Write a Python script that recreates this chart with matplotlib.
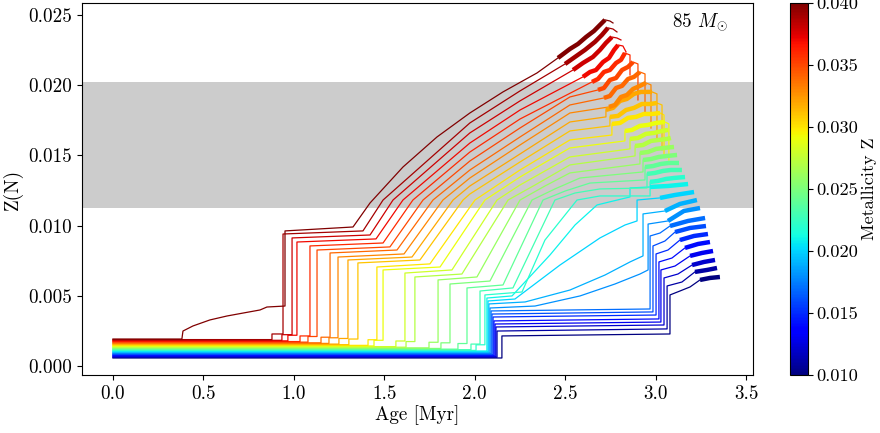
import matplotlib
matplotlib.use("Agg")
import matplotlib.pyplot as plt
from matplotlib.colors import Normalize
from matplotlib.cm import ScalarMappable

plt.rcParams['font.family'] = 'serif'
plt.rcParams['font.serif'] = ['cmr10']
plt.rcParams['mathtext.fontset'] = 'cm'
plt.rcParams['axes.formatter.use_mathtext'] = True
plt.rcParams['font.size'] = 13.8

# metallicity of each track (0.040 -> 0.010)
metallicity = [0.040, 0.039, 0.038, 0.037, 0.036, 0.035, 0.034, 0.033, 0.032, 0.031,
               0.030, 0.029, 0.028, 0.027, 0.026, 0.025, 0.024, 0.023, 0.022, 0.021,
               0.020, 0.019, 0.018, 0.017, 0.016, 0.015, 0.014, 0.013, 0.012, 0.011, 0.010]

band_low, band_high = 0.01125, 0.02023
mass_label = r'85 $M_{\odot}$'

# thin part of each track (age [Myr], Z(N))
thin_age = [
    [0, 0.381, 0.387, 0.442, 0.536, 0.630, 0.719, 0.813, 0.851, 0.951, 0.951, 1.327, 1.421, 1.603, 1.791, 1.973, 2.156, 2.344, 2.460],
    [0, 0.879, 0.879, 0.940, 0.940, 1.382, 1.493, 1.973, 2.250, 2.499],
    [0, 0.934, 0.934, 0.990, 0.990, 1.421, 1.548, 1.973, 2.250, 2.543],
    [0, 0.967, 0.967, 1.017, 1.017, 1.454, 1.603, 1.973, 2.250, 2.598],
    [0, 1.034, 1.034, 1.089, 1.089, 1.493, 1.658, 1.973, 2.250, 2.648],
    [0, 1.078, 1.078, 1.128, 1.128, 1.531, 1.714, 1.973, 2.250, 2.526, 2.681],
    [0, 1.150, 1.150, 1.200, 1.200, 1.570, 1.769, 1.973, 2.250, 2.526, 2.714],
    [0, 1.194, 1.194, 1.244, 1.244, 1.609, 1.824, 1.973, 2.250, 2.526, 2.742],
    [0, 1.249, 1.249, 1.299, 1.299, 1.653, 1.880, 1.973, 2.250, 2.526, 2.725, 2.725],
    [0, 1.304, 1.304, 1.354, 1.354, 1.697, 1.935, 1.973, 2.250, 2.526, 2.747, 2.747],
    [0, 1.410, 1.410, 1.459, 1.459, 1.752, 2.001, 2.250, 2.526, 2.758, 2.758],
    [0, 1.443, 1.443, 1.493, 1.493, 1.808, 2.056, 2.250, 2.526, 2.830, 2.830],
    [0, 1.564, 1.564, 1.614, 1.614, 1.874, 2.123, 2.250, 2.526, 2.858, 2.858],
    [0, 1.620, 1.620, 1.669, 1.669, 1.929, 2.184, 2.333, 2.526, 2.886, 2.886],
    [0, 1.747, 1.747, 1.797, 1.797, 2.012, 2.250, 2.388, 2.526, 2.913, 2.913],
    [0, 1.813, 1.813, 1.863, 1.863, 2.084, 2.316, 2.443, 2.582, 2.930, 2.930],
    [0, 1.907, 1.907, 1.957, 1.957, 2.156, 2.377, 2.499, 2.637, 2.941, 2.941],
    [0, 1.979, 1.979, 2.029, 2.029, 2.211, 2.443, 2.554, 2.692, 2.952, 2.952],
    [0, 2.007, 2.007, 2.056, 2.056, 2.261, 2.388, 2.565, 2.692, 2.969, 2.969],
    [0, 2.067, 2.067, 2.206, 2.416, 2.554, 2.676, 2.858, 2.858, 2.969],
    [0, 2.073, 2.073, 2.222, 2.471, 2.692, 2.830, 2.897, 2.897, 3.024],
    [0, 2.078, 2.078, 2.278, 2.526, 2.720, 2.858, 2.930, 2.930, 3.051],
    [0, 2.084, 2.084, 2.333, 2.582, 2.775, 2.913, 2.958, 2.958, 3.068],
    [0, 2.090, 2.090, 2.969, 2.969, 3.024, 3.079],
    [0, 2.095, 2.095, 2.985, 2.985, 3.051, 3.107],
    [0, 2.101, 2.101, 3.002, 3.002, 3.068, 3.134],
    [0, 2.106, 2.106, 3.018, 3.018, 3.090, 3.162],
    [0, 2.112, 2.112, 3.029, 3.029, 3.107, 3.190],
    [0, 2.117, 2.117, 3.046, 3.046, 3.123, 3.201],
    [0, 2.123, 2.123, 3.063, 3.063, 3.145, 3.217],
    [0, 2.150, 2.150, 3.079, 3.079, 3.134, 3.190, 3.245],
]
thin_zn = [
    [0.00192, 0.00192, 0.00249, 0.00285, 0.00328, 0.00356, 0.00377, 0.00399, 0.00420, 0.00427, 0.00962, 0.00990, 0.01161, 0.01417, 0.01631, 0.01802, 0.01952, 0.02087, 0.02194],
    [0.00188, 0.00188, 0.00228, 0.00228, 0.00940, 0.00962, 0.01182, 0.01731, 0.01959, 0.02151],
    [0.00183, 0.00183, 0.00223, 0.00223, 0.00912, 0.00933, 0.01182, 0.01660, 0.01888, 0.02108],
    [0.00179, 0.00179, 0.00219, 0.00219, 0.00883, 0.00905, 0.01182, 0.01588, 0.01823, 0.02059],
    [0.00174, 0.00174, 0.00214, 0.00214, 0.00855, 0.00876, 0.01182, 0.01524, 0.01759, 0.02023],
    [0.00170, 0.00170, 0.00210, 0.00210, 0.00826, 0.00848, 0.01182, 0.01460, 0.01695, 0.01916, 0.01966],
    [0.00165, 0.00165, 0.00205, 0.00205, 0.00805, 0.00826, 0.01182, 0.01396, 0.01631, 0.01859, 0.01909],
    [0.00161, 0.00161, 0.00201, 0.00201, 0.00776, 0.00798, 0.01182, 0.01339, 0.01574, 0.01802, 0.01845],
    [0.00156, 0.00156, 0.00196, 0.00196, 0.00755, 0.00776, 0.01182, 0.01282, 0.01510, 0.01738, 0.01774, 0.01824],
    [0.00152, 0.00152, 0.00192, 0.00192, 0.00734, 0.00755, 0.01182, 0.01225, 0.01453, 0.01674, 0.01710, 0.01774],
    [0.00147, 0.00147, 0.00187, 0.00187, 0.00705, 0.00727, 0.01182, 0.01396, 0.01610, 0.01645, 0.01724],
    [0.00143, 0.00143, 0.00183, 0.00183, 0.00684, 0.00705, 0.01182, 0.01346, 0.01553, 0.01603, 0.01674],
    [0.00138, 0.00138, 0.00178, 0.00178, 0.00662, 0.00684, 0.01182, 0.01289, 0.01489, 0.01546, 0.01617],
    [0.00134, 0.00134, 0.00174, 0.00174, 0.00634, 0.00655, 0.01182, 0.01289, 0.01432, 0.01496, 0.01567],
    [0.00129, 0.00129, 0.00169, 0.00169, 0.00613, 0.00634, 0.01182, 0.01282, 0.01375, 0.01439, 0.01517],
    [0.00125, 0.00125, 0.00165, 0.00165, 0.00584, 0.00605, 0.01182, 0.01261, 0.01339, 0.01382, 0.01467],
    [0.00120, 0.00120, 0.00160, 0.00160, 0.00556, 0.00577, 0.01182, 0.01246, 0.01303, 0.01325, 0.01417],
    [0.00116, 0.00116, 0.00156, 0.00156, 0.00534, 0.00556, 0.01182, 0.01232, 0.01261, 0.01268, 0.01368],
    [0.00111, 0.00111, 0.00151, 0.00151, 0.00506, 0.00527, 0.00897, 0.01182, 0.01211, 0.01211, 0.01311],
    [0.00107, 0.00107, 0.00484, 0.00499, 0.00791, 0.01004, 0.01147, 0.01204, 0.01268, 0.01275],
    [0.00102, 0.00102, 0.00463, 0.00477, 0.00719, 0.00912, 0.01004, 0.01033, 0.01182, 0.01197],
    [0.00098, 0.00098, 0.00442, 0.00456, 0.00541, 0.00648, 0.00741, 0.00784, 0.01083, 0.01104],
    [0.00093, 0.00093, 0.00413, 0.00427, 0.00499, 0.00584, 0.00655, 0.00684, 0.01011, 0.01033],
    [0.00089, 0.00089, 0.00392, 0.00406, 0.00926, 0.00947, 0.00997],
    [0.00084, 0.00084, 0.00370, 0.00385, 0.00855, 0.00890, 0.00954],
    [0.00080, 0.00080, 0.00349, 0.00363, 0.00798, 0.00826, 0.00897],
    [0.00075, 0.00075, 0.00321, 0.00335, 0.00741, 0.00769, 0.00841],
    [0.00071, 0.00071, 0.00299, 0.00313, 0.00684, 0.00712, 0.00784],
    [0.00066, 0.00066, 0.00278, 0.00292, 0.00627, 0.00655, 0.00719],
    [0.00062, 0.00062, 0.00249, 0.00264, 0.00570, 0.00598, 0.00670],
    [0.00057, 0.00057, 0.00214, 0.00228, 0.00506, 0.00534, 0.00563, 0.00613],
]

# thick (late) part of each track
thick_age = [
    [2.460, 2.526, 2.571, 2.615, 2.659, 2.692, 2.720],
    [2.499, 2.554, 2.609, 2.664, 2.703, 2.736],
    [2.543, 2.598, 2.653, 2.692, 2.725, 2.758],
    [2.598, 2.637, 2.670, 2.709, 2.742, 2.770, 2.792],
    [2.648, 2.681, 2.714, 2.747, 2.781, 2.808, 2.830],
    [2.681, 2.714, 2.747, 2.781, 2.814, 2.847, 2.875],
    [2.714, 2.747, 2.781, 2.814, 2.847, 2.880, 2.913],
    [2.742, 2.775, 2.808, 2.841, 2.875, 2.913, 2.946],
    [2.725, 2.764, 2.803, 2.841, 2.880, 2.919, 2.980],
    [2.747, 2.792, 2.836, 2.880, 2.924, 2.969, 3.007],
    [2.758, 2.803, 2.847, 2.891, 2.935, 2.980, 3.024],
    [2.830, 2.869, 2.913, 2.958, 3.002, 3.051],
    [2.858, 2.902, 2.946, 2.991, 3.035, 3.068],
    [2.886, 2.930, 2.974, 3.018, 3.063, 3.084],
    [2.913, 2.958, 3.002, 3.046, 3.101],
    [2.930, 2.974, 3.018, 3.063, 3.118],
    [2.941, 2.985, 3.029, 3.073, 3.129],
    [2.952, 2.996, 3.040, 3.084, 3.145],
    [2.969, 3.013, 3.057, 3.101, 3.162],
    [2.969, 3.068, 3.179],
    [3.024, 3.107, 3.212],
    [3.051, 3.134, 3.228],
    [3.068, 3.156, 3.245],
    [3.079, 3.179, 3.273],
    [3.107, 3.190, 3.278],
    [3.134, 3.212, 3.289],
    [3.162, 3.234, 3.300],
    [3.190, 3.256, 3.317],
    [3.201, 3.267, 3.328],
    [3.217, 3.284, 3.339],
    [3.245, 3.300, 3.355],
]
thick_zn = [
    [0.02194, 0.02258, 0.02294, 0.02343, 0.02386, 0.02429, 0.02465],
    [0.02151, 0.02201, 0.02251, 0.02308, 0.02358, 0.02408],
    [0.02108, 0.02158, 0.02201, 0.02251, 0.02301, 0.02343],
    [0.02059, 0.02094, 0.02108, 0.02165, 0.02194, 0.02251, 0.02286],
    [0.02023, 0.02044, 0.02094, 0.02108, 0.02158, 0.02180, 0.02229],
    [0.01966, 0.01980, 0.02037, 0.02051, 0.02108, 0.02130, 0.02165],
    [0.01909, 0.01923, 0.01980, 0.01995, 0.02044, 0.02059, 0.02094],
    [0.01845, 0.01859, 0.01916, 0.01930, 0.01973, 0.01995, 0.02016],
    [0.01824, 0.01838, 0.01888, 0.01902, 0.01938, 0.01952, 0.01952],
    [0.01774, 0.01781, 0.01823, 0.01838, 0.01866, 0.01866, 0.01873],
    [0.01724, 0.01731, 0.01767, 0.01774, 0.01795, 0.01795, 0.01802],
    [0.01674, 0.01681, 0.01710, 0.01717, 0.01731, 0.01738],
    [0.01617, 0.01624, 0.01653, 0.01660, 0.01674, 0.01681],
    [0.01567, 0.01574, 0.01603, 0.01610, 0.01617, 0.01624],
    [0.01517, 0.01524, 0.01546, 0.01553, 0.01560],
    [0.01467, 0.01474, 0.01489, 0.01496, 0.01503],
    [0.01417, 0.01424, 0.01439, 0.01446, 0.01446],
    [0.01368, 0.01375, 0.01389, 0.01396, 0.01396],
    [0.01311, 0.01318, 0.01332, 0.01339, 0.01346],
    [0.01275, 0.01282, 0.01296],
    [0.01197, 0.01218, 0.01239],
    [0.01104, 0.01154, 0.01182],
    [0.01033, 0.01104, 0.01125],
    [0.00997, 0.01033, 0.01054],
    [0.00954, 0.00983, 0.00997],
    [0.00897, 0.00926, 0.00940],
    [0.00841, 0.00869, 0.00883],
    [0.00784, 0.00805, 0.00819],
    [0.00719, 0.00741, 0.00755],
    [0.00670, 0.00684, 0.00698],
    [0.00613, 0.00627, 0.00634],
]

# final thin tails
tail_age = [
    [2.720, 2.747, 2.764], [2.736, 2.764, 2.786], [2.758, 2.786, 2.808],
    [2.792, 2.819, 2.836], [2.830, 2.858, 2.858], [2.875, 2.902, 2.902],
    [2.913, 2.941, 2.941], [2.946, 2.974, 2.974], [2.980, 3.007, 3.007],
    [3.007, 3.035, 3.035], [3.024, 3.046, 3.046], [3.051, 3.073, 3.073],
] + [[] for _ in range(19)]
tail_zn = [
    [0.02465, 0.02457, 0.02443], [0.02408, 0.02400, 0.02379], [0.02343, 0.02336, 0.02322],
    [0.02286, 0.02279, 0.02237], [0.02229, 0.02215, 0.02073], [0.02165, 0.02151, 0.01895],
    [0.02094, 0.02080, 0.01788], [0.02016, 0.02002, 0.01695], [0.01952, 0.01938, 0.01610],
    [0.01873, 0.01859, 0.01539], [0.01802, 0.01788, 0.01503], [0.01738, 0.01724, 0.01467],
] + [[] for _ in range(19)]

fig = plt.figure(figsize=(8.8, 4.33), dpi=100)
ax = fig.add_axes([0.0932, 0.134, 0.7625, 0.859])
cax = fig.add_axes([0.898, 0.134, 0.0205, 0.859])

cmap = plt.get_cmap('jet')
norm = Normalize(vmin=0.010, vmax=0.040)

ax.axhspan(band_low, band_high, color='#cccccc', zorder=0, lw=0)

for k in reversed(range(len(metallicity))):
    c = cmap(norm(metallicity[k]))
    ax.plot(thin_age[k], thin_zn[k], color=c, lw=0.9, zorder=2)
    ax.plot(thick_age[k], thick_zn[k], color=c, lw=3.2, zorder=3, solid_capstyle='butt')
    if tail_age[k]:
        ax.plot(tail_age[k], tail_zn[k], color=c, lw=0.9, zorder=2)

ax.set_xlim(-0.171, 3.538)
ax.set_ylim(-0.00064, 0.02585)
ax.set_xticks([0.0, 0.5, 1.0, 1.5, 2.0, 2.5, 3.0, 3.5])
ax.set_xticklabels(['0.0', '0.5', '1.0', '1.5', '2.0', '2.5', '3.0', '3.5'])
ax.set_yticks([0.000, 0.005, 0.010, 0.015, 0.020, 0.025])
ax.set_yticklabels(['0.000', '0.005', '0.010', '0.015', '0.020', '0.025'])
ax.set_xlabel('Age [Myr]', labelpad=2)
ax.set_ylabel('Z(N)', labelpad=4)
ax.text(0.963, 0.949, mass_label, transform=ax.transAxes, ha='right', va='center')

sm = ScalarMappable(norm=norm, cmap=cmap)
cb = fig.colorbar(sm, cax=cax, ticks=[0.010, 0.015, 0.020, 0.025, 0.030, 0.035, 0.040])
cb.ax.set_yticklabels(['0.010', '0.015', '0.020', '0.025', '0.030', '0.035', '0.040'])
cb.ax.tick_params(labelsize=13.2, pad=2.5)
cb.set_label('Metallicity Z', labelpad=2, fontsize=13)

fig.savefig('out.png', dpi=100)
